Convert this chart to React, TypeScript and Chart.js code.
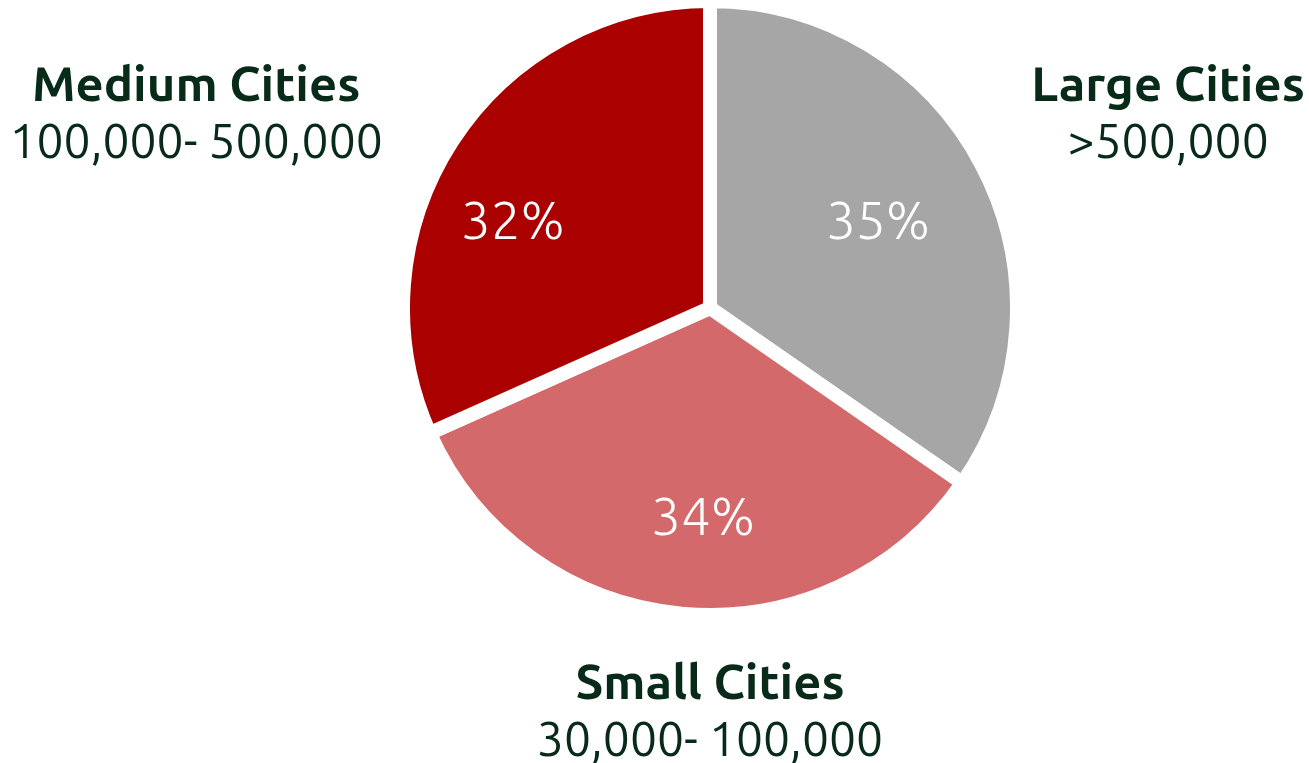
import React, { useEffect, useRef } from "react";
import { Chart, registerables } from "chart.js";

Chart.register(...registerables);

const categories = ["Large Cities", "Small Cities", "Medium Cities"];
const ranges = [">500,000", "30,000- 100,000", "100,000- 500,000"];
const shares = [35, 34, 32];
const colors = ["#A6A6A6", "#D4696C", "#AA0000"];

const TEXT_COLOR = "#082A19";
const FONT = "Ubuntu, 'Open Sans', 'Noto Sans', sans-serif";

// label placement relative to pie centre, in units of radius
const pctOffsets = [
  [0.56, -0.287],
  [-0.023, 0.697],
  [-0.657, -0.287],
];
const outerOffsets = [
  [1.527, -0.743],
  [0.0, 1.25],
  [-1.713, -0.743],
];

const labelPlugin = {
  id: "pieLabels",
  afterDatasetsDraw(chart: any) {
    const meta = chart.getDatasetMeta(0);
    const ctx = chart.ctx;
    const first = meta.data[0];
    if (!first) return;
    const cx = first.x;
    const cy = first.y;
    const R = 300;
    ctx.save();
    ctx.textAlign = "center";
    ctx.textBaseline = "middle";
    meta.data.forEach((arc: any, i: number) => {
      const [fx, fy] = pctOffsets[i];
      ctx.fillStyle = "#FFFFFF";
      ctx.font = `300 53px ${FONT}`;
      ctx.fillText(`${shares[i]}%`, cx + fx * R, cy + fy * R);
      const [ox, oy] = outerOffsets[i];
      const tx = cx + ox * R;
      const ty = cy + oy * R;
      ctx.fillStyle = TEXT_COLOR;
      ctx.font = `bold 49px ${FONT}`;
      ctx.fillText(categories[i], tx, ty);
      ctx.font = `400 48px ${FONT}`;
      ctx.fillText(ranges[i], tx, ty + 57);
    });
    ctx.restore();
  },
};

export default function App() {
  const ref = useRef<HTMLCanvasElement | null>(null);
  useEffect(() => {
    if (!ref.current) return;
    const chart = new Chart(ref.current, {
      type: "pie",
      data: {
        labels: categories,
        datasets: [
          {
            data: shares,
            backgroundColor: colors,
            borderColor: "#FFFFFF",
            borderWidth: 14,
            borderJoinStyle: "miter",
            hoverOffset: 0,
          },
        ],
      },
      options: {
        responsive: false,
        animation: false,
        radius: 307,
        layout: { padding: { left: 111, right: 0, top: 0, bottom: 147 } },
        plugins: {
          legend: { display: false },
          tooltip: { enabled: false },
          title: { display: false },
        },
      },
      plugins: [labelPlugin],
    } as any);
    return () => chart.destroy();
  }, []);
  return (
    <div style={{ position: "absolute", left: 0, top: 0, width: 1309, height: 763, background: "#fff" }}>
      <canvas ref={ref} width={1309} height={763} />
    </div>
  );
}
